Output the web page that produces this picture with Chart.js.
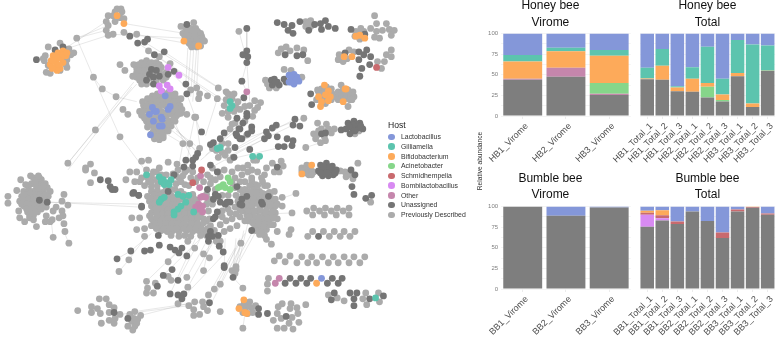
<!DOCTYPE html>
<html>
<head>
<meta charset="utf-8">
<title>Host network and relative abundance</title>
<script src="https://cdn.jsdelivr.net/npm/chart.js@4/dist/chart.umd.min.js"></script>
<style>
  html, body { margin: 0; padding: 0; background: #fff; width: 777px; height: 338px; overflow: hidden; font-family: "Liberation Sans", sans-serif; }
  canvas { position: absolute; }
  #legend { position: absolute; left: 388px; top: 119px; color: #222; }
  #legend .head { font-size: 8.6px; height: 13px; line-height: 12px; }
  #legend .row { position: relative; height: 9.75px; line-height: 9.75px; font-size: 6.9px; padding-left: 13px; white-space: nowrap; color: #333; }
  #legend .dot { position: absolute; left: 0.4px; top: 1.6px; width: 6.6px; height: 6.6px; border-radius: 50%; }
  #yTitle { position: absolute; left: 479px; top: 161px; font-size: 6.6px; color: #333; transform: translate(-50%, -50%) rotate(-90deg); white-space: nowrap; }
</style>
</head>
<body>
<canvas id="network" width="470" height="338" style="left:0;top:0;width:470px;height:338px"></canvas>
<canvas id="hbVirome" width="192" height="170" style="left:470px;top:0;width:192px;height:170px"></canvas>
<canvas id="hbTotal" width="195" height="170" style="left:610px;top:0;width:195px;height:170px"></canvas>
<canvas id="bbVirome" width="192" height="168" style="left:470px;top:170px;width:192px;height:168px"></canvas>
<canvas id="bbTotal" width="195" height="168" style="left:610px;top:170px;width:195px;height:168px"></canvas>
<div id="legend"></div>
<div id="yTitle">Relative abundance</div>
<script>
// --- LEGEND ---
const hostNames = ['Lactobacillus', 'Gilliamella', 'Bifidobacterium', 'Acinetobacter', 'Schmidhempelia', 'Bombilactobacillus', 'Other', 'Unassigned', 'Previously Described'];
const hostColors = ['#8497d9', '#5cc4ae', '#fdaa5a', '#86d68a', '#c96a6e', '#d88af2', '#c586ac', '#757575', '#ababab'];

// --- BAR DATA ---
const yTicks = [0, 25, 50, 75, 100];
const hbVirLabels = ['HB1_Virome', 'HB2_Virome', 'HB3_Virome'];
const hbVirUnassigned = [44, 47.5, 25.5];
const hbVirOther = [1, 11, 1.5];
const hbVirAcinetobacter = [0, 0, 13];
const hbVirBifido = [21, 20, 33];
const hbVirGilliamella = [8, 4, 7];
const hbVirLacto = [26, 17.5, 20];

const hbTotLabels = ['HB1_Total_1', 'HB1_Total_2', 'HB1_Total_3', 'HB2_Total_1', 'HB2_Total_2', 'HB2_Total_3', 'HB3_Total_1', 'HB3_Total_2', 'HB3_Total_3'];
const hbTotUnassigned = [44.5, 44, 30, 29.5, 22.5, 17.5, 48, 11, 54.5];
const hbTotAcinetobacter = [0, 0, 0, 0, 13, 2, 0, 0, 0];
const hbTotBifido = [1, 17, 4.5, 15.5, 4.5, 6.5, 4, 4, 0.3];
const hbTotGilliamella = [13, 20, 1.5, 14, 44, 19, 40, 71.5, 30.7];
const hbTotLacto = [41.5, 19, 64, 41, 16, 55, 8, 13.5, 14.5];

const bbVirLabels = ['BB1_Virome', 'BB2_Virome', 'BB3_Virome'];
const bbVirUnassigned = [100, 89, 99];
const bbVirLacto = [0, 11, 1];

const bbTotLabels = ['BB1_Total_1', 'BB1_Total_2', 'BB1_Total_3', 'BB2_Total_1', 'BB2_Total_2', 'BB2_Total_3', 'BB3_Total_1', 'BB3_Total_2', 'BB3_Total_3'];
const bbTotUnassigned = [75.5, 83, 79, 94, 82.5, 62, 94, 98.5, 90];
const bbTotBombi = [14.5, 3, 0, 0, 0, 0, 0, 0, 0];
const bbTotSchmid = [2.5, 3.5, 3, 0, 0, 6.5, 2.5, 1, 1.5];
const bbTotBifido = [2.5, 6, 0, 0, 0, 0, 0, 0.5, 0];
const bbTotLacto = [5, 4.5, 18, 6, 17.5, 31.5, 3.5, 0, 8.5];

// --- NETWORK NODES ---
const nodesLacto = [[290,73],[295,72],[293,77],[298,75],[290,80],[295,82],[300,79],[292,75],[297,78],[292,80],[153,110],[148,113],[151,106],[155,110],[160,116],[152,120],[158,125],[161,118],[169,105],[164,94],[167,108],[161,125],[149,134],[323,281]];
const nodesGilli = [[145,175],[158,177],[162,180],[165,183],[170,180],[160,182],[163,185],[168,185],[160,200],[163,198],[158,203],[177,195],[182,197],[173,213],[177,210],[180,207],[185,203],[173,216],[193,213],[188,196],[217,148],[220,147],[253,156],[260,156],[378,301],[230,100],[232,104],[230,107]];
const nodesBifido = [[55,50],[60,48],[50,53],[58,55],[48,58],[53,60],[60,60],[47,62],[52,65],[57,66],[63,53],[54,68],[55,55],[50,58],[56,62],[49,66],[60,52],[64,50],[115,12],[122,20],[183,38],[198,43],[362,32],[367,35],[358,33],[346,54],[354,54],[326,83],[330,89],[327,93],[320,95],[332,95],[330,99],[323,100],[322,105],[347,87],[345,100],[348,87],[313,165],[303,174],[244,303],[239,312],[245,316],[247,317],[318,286]];
const nodesAcin = [[228,178],[230,182],[220,187],[225,188],[230,190],[223,185],[218,188]];
const nodesSchmid = [[201,170],[192,183],[379,65]];
const nodesBombi = [[167,65],[178,73],[158,84],[166,83],[160,89],[169,87]];
const nodesOther = [[247,90],[199,188],[200,176],[200,198],[202,197],[205,198],[198,205],[195,208],[202,207],[202,213],[197,210],[200,210],[276,286],[280,281]];
const nodesUnassigned = [[52,47],[60,44],[33,57],[186,21],[128,33],[136,40],[143,39],[146,36],[153,52],[163,49],[150,67],[155,68],[148,72],[158,74],[145,78],[152,75],[152,82],[167,72],[173,69],[185,82],[186,92],[201,131],[197,153],[195,157],[185,160],[192,160],[210,144],[213,142],[237,117],[247,112],[247,115],[224,132],[220,138],[240,128],[237,135],[242,138],[248,133],[235,147],[234,157],[250,149],[183,167],[192,166],[210,165],[217,172],[173,175],[167,192],[207,190],[215,195],[220,203],[225,205],[230,203],[242,200],[247,197],[240,205],[132,193],[137,196],[140,207],[213,220],[210,233],[208,238],[212,238],[218,237],[208,243],[227,203],[213,200],[218,197],[237,187],[215,218],[217,213],[262,203],[242,206],[263,205],[269,197],[320,238],[286,286],[291,281],[297,286],[302,281],[308,286],[312,281],[329,286],[334,281],[340,286],[344,281],[336,296],[333,303],[352,296],[359,296],[356,302],[356,309],[372,302],[386,299],[259,312],[259,318],[268,317],[287,320],[278,19],[285,21],[293,22],[289,27],[294,30],[301,18],[310,27],[316,21],[322,20],[327,17],[323,26],[330,23],[337,25],[353,26],[367,31],[286,52],[298,53],[304,52],[347,50],[361,49],[361,57],[366,52],[369,47],[373,54],[372,62],[364,66],[362,74],[272,78],[275,77],[278,80],[273,83],[285,77],[287,80],[280,83],[276,80],[312,92],[313,103],[247,25],[247,48],[243,52],[248,54],[247,60],[242,79],[244,96],[296,118],[301,125],[294,124],[277,124],[273,127],[267,131],[269,135],[265,138],[278,136],[288,138],[294,140],[293,145],[285,146],[279,146],[252,126],[252,130],[243,122],[239,128],[236,133],[240,138],[323,133],[327,132],[343,129],[350,122],[356,120],[362,122],[348,128],[354,127],[360,127],[365,128],[352,133],[358,123],[355,124],[351,125],[357,130],[363,125],[322,165],[328,163],[334,166],[320,171],[326,170],[332,170],[338,170],[324,176],[330,176],[335,175],[325,167],[331,167],[328,173],[322,173],[337,173],[353,170],[357,175],[354,187],[356,195],[368,199],[374,196],[278,167],[252,232],[44,203],[36,201],[98,180],[106,181],[108,187],[113,190],[110,190],[131,194],[137,196],[140,208],[157,237],[158,247],[143,253],[149,252],[129,253],[115,261],[171,272],[162,278],[177,283],[156,289],[169,297],[177,298],[183,297],[181,302],[169,249],[174,252],[181,250],[178,255],[186,258],[224,270],[209,306],[219,248],[223,254],[233,280],[112,316],[126,322],[224,268]];
const nodesPrev = [
  // top left clusters
  [57,40],[45,44],[66,46],[68,52],[71,50],[64,57],[42,53],[40,56],[41,58],[45,63],[43,70],[47,71],[57,68],[64,65],[63,62],[74,35],
  [115,5],[119,5],[113,8],[120,8],[106,12],[111,12],[118,14],[104,18],[113,18],[122,15],[106,22],[104,27],[106,32],[111,31],
  [193,19],[180,23],[185,25],[190,25],[195,25],[182,30],[188,30],[193,30],[198,30],[186,35],[191,35],[196,35],[201,33],[204,38],[188,40],[193,40],[198,40],[191,44],[196,44],[200,43],
  [187,28],[192,28],[197,28],[200,30],[184,33],[189,33],[194,33],[199,36],[187,38],[192,38],[196,38],[202,36],[190,42],[194,42],
  [122,29],[135,31],[147,48],[158,54],[169,61],
  [118,62],[123,68],[132,62],[135,66],[131,74],[138,78],[140,60],[145,58],[150,60],[155,60],[135,70],[140,65],[145,65],[140,72],[135,75],[160,65],[165,70],[162,78],[155,82],[140,82],[146,70],[152,70],[158,68],
  [143,62],[148,62],[153,64],[158,62],[138,68],[143,68],[138,75],[143,76],[148,76],[155,78],[160,72],[165,75],[145,82],[137,62],[150,65],[142,80],
  // lacto cluster
  [141,100],[146,97],[151,94],[156,92],[161,90],[168,90],[174,92],[180,97],[142,104],[147,102],[152,99],[157,96],[162,95],[167,94],[172,97],[177,100],[138,110],[144,108],[149,105],[154,103],[158,101],[164,100],[170,100],[176,104],[181,108],[140,114],[146,115],[150,118],[155,115],[160,110],[165,105],[172,108],[178,110],[145,120],[150,124],[155,120],[160,122],[165,115],[170,113],[175,115],[146,126],[152,130],[157,127],[163,122],[168,120],[174,120],[150,133],[155,134],[160,132],[165,128],[170,125],[153,138],[158,139],[162,137],
  [149,97],[154,95],[159,93],[165,92],[171,94],[176,97],[145,105],[150,102],[155,100],[161,98],[167,98],[173,100],[179,104],[141,110],[147,110],[152,108],[158,106],[162,103],[168,103],[174,106],[143,117],[148,120],[153,117],[158,118],[163,112],[168,110],[174,110],[180,112],[148,124],[153,125],[158,130],[163,127],[168,124],[173,118],[177,113],[152,135],[157,136],[162,134],[167,130],
  [121,108],[126,113],[195,116],[186,113],[196,86],[190,88],[199,92],[198,97],[207,94],[218,86],[226,90],[217,97],
  // links on the left
  [91,75],[100,87],[114,95],[93,129],[118,136],[65,163],[88,164],[83,168],[140,161],[147,160],[167,162],[176,164],[182,143],[189,143],[194,116],[199,148],
  [255,99],[261,101],[258,106],[255,109],[253,115],[250,104],[239,28],[247,134],[233,157],[305,117],
  // cluster upper right of centre
  [222,143],[216,150],[222,152],[228,150],[212,148],[228,143],[232,123],[230,128],[245,120],[235,122],[243,168],[248,165],[225,155],[230,160],[218,157],
  [228,92],[234,92],[226,98],[232,97],[238,100],[224,104],[236,106],[228,110],[234,110],[240,108],[245,105],[222,112],[228,116],
  [257,160],[267,168],[273,163],[282,161],[284,166],[275,172],[280,172],[265,175],[252,181],[265,186],[270,193],[254,160],
  // main bottom cluster
  [150,192],[156,191],[162,193],[168,192],[174,190],[180,192],[146,197],[152,197],[158,196],[166,197],[172,198],[186,198],[192,195],[148,202],[154,203],[164,203],[170,202],[176,203],[190,202],[196,201],[150,207],[156,208],[162,207],[168,208],[186,208],[192,206],[152,212],[158,212],[164,213],[170,212],[180,212],[186,213],[190,211],[148,217],[156,217],[160,218],[166,217],[176,218],[182,217],[188,218],[194,217],[200,218],[152,222],[158,223],[164,222],[170,222],[176,223],[184,222],[190,223],[196,222],[206,222],[150,227],[156,228],[162,227],[168,228],[174,227],[180,228],[188,227],[194,228],[200,227],[210,227],[160,232],[166,233],[172,232],[178,233],[186,232],[192,233],[198,232],[204,233],[214,232],[170,237],[178,238],[184,237],[190,238],[200,237],[206,237],
  [153,195],[159,199],[163,196],[170,196],[177,197],[183,195],[189,198],[149,199],[155,200],[161,201],[167,200],[173,200],[179,200],[183,200],[187,203],[193,199],[153,205],[159,205],[165,205],[171,206],[177,206],[183,206],[189,205],[195,205],[155,210],[161,210],[167,211],[173,210],[178,214],[183,210],[189,208],[193,210],[150,214],[155,214],[161,215],[167,215],[172,215],[178,216],[184,215],[190,215],[196,214],[150,220],[155,220],[161,220],[167,220],[173,220],[179,220],[185,220],[191,220],[197,219],[203,220],[209,220],[154,225],[159,225],[165,225],[171,225],[177,225],[183,225],[191,225],[197,225],[203,224],[155,230],[163,230],[169,230],[175,230],[183,230],[189,230],[195,230],[201,230],[207,230],
  [135,172],[140,178],[147,182],[152,172],[158,168],[165,175],[172,174],[177,170],[178,178],[184,172],[170,190],[184,185],[150,187],[156,186],[165,190],[143,186],
  [145,170],[150,176],[155,172],[160,175],[175,176],[182,176],[150,182],[155,180],[175,184],[180,182],[188,186],[145,177],
  [186,170],[192,172],[197,178],[190,178],[207,175],[212,168],[218,172],[224,170],[232,172],[238,168],[242,175],[248,172],[245,182],[252,178],[240,190],[246,192],[215,190],[210,184],[215,180],[222,196],[228,196],[236,196],[242,200],[206,195],[212,205],[208,212],[222,212],[228,210],[235,208],[242,212],[248,205],[252,198],[256,195],[232,220],[240,218],[226,222],[220,226],[248,222],
  [195,182],[203,182],[210,178],[220,177],[235,178],[240,182],[235,188],[232,183],[208,200],[206,205],[222,218],[230,214],[236,215],[244,207],[250,212],[245,200],[238,202],[256,185],[262,178],[258,172],[252,170],
  // right of centre cluster
  [243,195],[248,192],[254,190],[260,192],[266,195],[271,198],[276,200],[240,200],[246,199],[251,197],[257,197],[266,200],[273,203],[278,205],[244,205],[250,203],[255,203],[260,207],[268,208],[274,210],[240,211],[246,210],[252,209],[258,212],[264,214],[270,215],[276,214],[247,216],[253,216],[259,218],[265,220],[271,220],[250,222],[256,224],[262,226],[268,225],[274,226],[255,229],[261,231],[267,231],[260,236],[265,237],[278,220],[245,190],[250,186],[258,186],[263,182],[268,186],[275,192],[283,198],[283,207],[297,194],[293,214],[292,231],[290,236],[278,233],[267,241],[272,246],[241,245],[220,243],[216,243],[230,230],[224,233],[237,227],[245,222],
  [246,195],[252,193],[257,193],[263,194],[270,194],[243,200],[249,201],[254,200],[260,200],[263,198],[270,203],[276,207],[247,206],[253,206],[258,204],[265,205],[271,206],[243,208],[249,213],[255,212],[261,211],[267,212],[273,213],[250,218],[256,219],[262,220],[268,219],[274,219],[253,224],[259,223],[265,226],[271,226],[258,228],[264,229],[256,232],[262,234],
  // rows
  [308,212],[315,209],[314,216],[321,212],[327,209],[326,216],[333,212],[339,209],[338,216],[345,212],[351,209],[351,216],
  [309,238],[314,233],[325,233],[331,238],[336,233],[342,238],[346,233],[352,238],[357,233],
  [275,263],[280,258],[286,264],[291,258],[298,265],[303,259],[309,265],[313,259],[318,265],[324,259],[330,265],[335,259],[340,265],[346,259],[351,265],[356,259],[362,265],[367,259],
  [269,281],[268,287],[268,294],
  [330,298],[339,301],[346,304],[368,296],[365,302],[369,308],[381,296],[382,305],
  // bottom right
  [245,305],[250,305],[240,310],[246,311],[252,311],[256,309],[243,316],[248,317],[253,316],[243,332],[248,308],[244,308],
  [307,308],[283,307],[292,307],[279,310],[291,312],[298,311],[278,317],[299,317],[282,322],[274,324],[293,321],[300,326],[290,327],[285,332],[278,332],[294,333],
  // top right
  [307,18],[312,17],[307,23],[312,23],[310,20],
  [377,12],[379,20],[389,20],[373,25],[379,28],[385,27],[392,26],[397,27],[394,32],[377,34],[382,35],[358,28],[357,33],[362,36],[363,25],[360,30],[366,28],
  [279,50],[282,46],[287,44],[291,48],[298,45],[305,47],[309,58],
  [341,52],[351,47],[340,57],[345,59],[349,56],[356,49],[380,59],[387,59],[384,66],[389,52],[394,47],[394,54],
  [285,67],[292,68],[303,75],[268,82],[277,86],[270,86],[266,78],
  [319,88],[323,87],[333,87],[318,98],[334,92],[333,98],[327,102],[320,90],[325,90],[328,85],[336,95],[321,92],[325,96],[329,97],[326,99],[322,97],[331,92],
  [343,83],[340,90],[345,92],[350,88],[356,95],[352,93],[342,95],[347,97],[352,98],[350,105],[340,98],[355,90],[345,88],[350,92],[346,95],[343,92],[354,98],
  // right centre
  [319,122],[328,123],[323,128],[333,132],[315,133],[317,138],[322,142],[330,128],[336,128],[318,135],[327,140],[307,147],[326,136],[320,130],
  [357,133],[361,130],
  [303,168],[308,165],[305,173],[310,175],[315,172],[310,169],[306,170],[307,170],[312,170],[308,173],[313,175],[303,171],
  [342,171],[360,163],[347,172],[348,177],[353,175],[355,179],[373,203],
  // big left cluster
  [30,178],[34,182],[38,180],[42,184],[28,184],[33,187],[38,186],[44,188],[47,192],[20,192],[25,190],[30,192],[35,192],[40,192],[45,197],[18,197],[23,196],[28,198],[33,197],[38,197],[16,202],[21,202],[26,203],[31,203],[38,206],[43,208],[20,207],[25,208],[30,208],[35,208],[24,213],[29,213],[34,213],[30,216],
  [32,181],[36,178],[40,187],[35,189],[25,186],[22,195],[27,194],[32,195],[37,195],[42,195],[20,200],[25,200],[30,201],[35,201],[40,200],[18,205],[23,205],[28,206],[33,206],[40,203],[23,210],[28,210],[33,210],[38,210],[26,216],[32,213],
  [35,176],[27,176],[17,180],[22,185],[13,191],[4,197],[4,204],[15,212],[16,219],[21,223],[26,219],[30,221],[33,228],[42,223],[47,223],[49,221],[56,219],[59,212],[60,217],[53,208],[50,212],[61,195],[59,202],[65,206],[61,225],[62,233],[50,239],[66,245],[43,217],
  // lower left chains
  [83,170],[92,173],[88,183],[124,180],[128,172],[133,182],[138,182],[130,219],[138,219],[135,231],[143,230],[143,238],[127,262],[117,274],[167,264],[167,279],[170,283],[186,280],[187,290],[145,284],[154,286],[146,291],[145,296],[152,296],[177,307],[194,250],[203,256],[209,260],[203,273],[220,287],[214,292],[208,298],[202,305],[194,305],[188,309],[203,310],[207,314],[193,313],[193,319],[199,318],[220,315],[187,243],[236,269],
  [75,314],[97,302],[104,302],[89,310],[89,316],[95,312],[98,317],[107,308],[112,311],[107,316],[118,318],[113,322],[107,324],[112,327],[99,327],[128,318],[133,315],[139,319],[132,322],[136,323],[130,325],[135,327],[126,330],[133,330],[131,334],
  [236,272],[232,273],[235,276],[243,291]
];

// --- NETWORK EDGES: [x1, y1, x2, y2] ---
const edgeList = [
  [74,35,104,27],[74,35,106,22],[60,47,106,32],[60,47,104,18],[122,20,183,30],[111,31,183,35],[122,29,184,40],[74,35,91,75],[91,75,118,136],[118,136,145,172],
  [65,163,93,129],[93,129,135,82],[65,163,132,80],[65,170,130,85],[91,75,100,87],[100,87,114,95],[114,95,135,100],[187,45,185,82],[190,45,187,90],[193,45,190,95],[196,45,192,100],[198,42,196,86],
  [136,40,225,100],[163,49,240,100],[147,48,190,90],[143,39,218,86],[153,52,217,97],[165,125,190,145],[170,122,195,150],[160,130,190,148],[175,130,195,145],[168,120,197,153],[172,118,192,160],
  [182,143,177,170],[189,143,185,170],[195,116,200,150],[194,116,188,145],[217,97,205,135],[239,28,245,50],[247,25,247,48],[247,60,242,79],[242,79,247,90],[247,90,244,110],[247,60,250,100],[186,92,200,131],
  [47,203,138,208],[44,203,140,205],[253,115,200,160],[265,138,215,165],[285,146,225,160],[296,118,235,150],[305,117,240,140],[258,106,210,150],[255,109,205,155],[277,124,215,160],[294,124,230,155],[283,198,260,205],[293,214,270,215],[297,194,280,200],[307,147,322,142],
  [50,239,48,222],[66,245,61,233],[128,172,150,180],[118,318,188,309],[139,319,194,305],[133,315,202,305],[241,245,232,272],[236,240,233,272],[244,232,235,272],[248,225,237,272],[252,235,230,275],[258,230,236,270],[243,291,233,280],[243,332,245,318],
  [117,274,127,262],[127,262,143,240],[115,261,129,253],[129,253,150,235],[169,297,195,240],[177,283,200,240],[187,290,215,240],[203,273,210,240],[186,280,205,245],[224,270,225,240],[220,287,240,240],[214,292,245,235],[207,314,240,250],[162,278,200,240],[145,284,180,250],[208,298,235,250],[181,302,225,255],[167,264,190,240],[203,256,215,240]
];

// --- BUILD THE NETWORK CHART ---
const toPoints = (pairs) => pairs.map(p => ({ x: p[0], y: p[1] }));
const edgePoints = [];
edgeList.forEach(e => {
    edgePoints.push({ x: e[0], y: e[1] }, { x: e[2], y: e[3] }, { x: e[2], y: null });
});
const nodeGroups = [nodesLacto, nodesGilli, nodesBifido, nodesAcin, nodesSchmid, nodesBombi, nodesOther, nodesUnassigned, nodesPrev];
const nodeSets = nodeGroups.map((pairs, i) => ({
    label: hostNames[i],
    data: toPoints(pairs),
    backgroundColor: hostColors[i],
    pointRadius: 3.4,
    borderWidth: 0,
    showLine: false,
    order: i === 8 ? 2 : (i === 7 ? 1 : 0)
}));
new Chart(document.getElementById('network'), {
    type: 'scatter',
    data: {
        datasets: [...nodeSets, {
            label: 'Edges',
            data: edgePoints,
            showLine: true,
            spanGaps: false,
            pointRadius: 0,
            borderWidth: 0.6,
            borderColor: 'rgba(170,170,170,0.45)',
            order: 3
        }]
    },
    options: {
        responsive: false,
        animation: false,
        events: [],
        plugins: { legend: { display: false }, tooltip: { enabled: false } },
        layout: { padding: 0 },
        scales: {
            x: { type: 'linear', display: false, min: 0, max: 470 },
            y: { type: 'linear', display: false, min: 0, max: 338, reverse: true }
        }
    }
});

// --- LEGEND HTML ---
const legendEl = document.getElementById('legend');
legendEl.innerHTML = '<div class="head">Host</div>' + hostNames.map((name, i) =>
    `<div class="row"><span class="dot" style="background:${hostColors[i]}"></span>${name}</div>`).join('');

// --- BAR PANELS ---
const barSet = (host, values) => {
    const i = hostNames.indexOf(host);
    return { label: host, data: values, backgroundColor: i === 7 ? '#7e7e7e' : hostColors[i], borderWidth: 0, barPercentage: 0.9, categoryPercentage: 1 };
};

function barPanel(id, labels, sets, cfg) {
    new Chart(document.getElementById(id), {
        type: 'bar',
        data: { labels, datasets: sets },
        options: {
            responsive: false,
            animation: false,
            events: [],
            layout: { padding: { left: cfg.padLeft, right: cfg.padRight, top: 0, bottom: 0 } },
            plugins: {
                legend: { display: false },
                tooltip: { enabled: false },
                title: {
                    display: true,
                    text: cfg.title,
                    color: '#111',
                    font: { family: '"Liberation Sans"', size: 12, weight: 'normal', lineHeight: 1.38 },
                    padding: { top: cfg.titleTop, bottom: cfg.titleBottom }
                }
            },
            scales: {
                x: {
                    stacked: true,
                    offset: true,
                    border: { display: false },
                    grid: { display: true, offset: false, drawOnChartArea: false, drawTicks: true, tickLength: 3, color: '#ececec' },
                    ticks: {
                        color: '#4d4d4d',
                        autoSkip: false,
                        minRotation: 45,
                        maxRotation: 45,
                        padding: 2,
                        labelOffset: cfg.labelShift,
                        font: { family: '"Liberation Sans"', size: 9 }
                    },
                    afterFit: (scale) => {
                        scale.height = cfg.axisHeight;
                        scale.paddingLeft = 0;
                        scale.paddingRight = 0;
                    }
                },
                y: {
                    stacked: true,
                    min: 0,
                    max: 100,
                    border: { display: false },
                    grid: { color: '#f1f1f1', drawTicks: false, lineWidth: 0.8 },
                    afterBuildTicks: (scale) => {
                        const minor = [12.5, 37.5, 62.5, 87.5];
                        scale.ticks = [...yTicks, ...minor].sort((a, b) => a - b).map(v => ({ value: v }));
                    },
                    ticks: {
                        display: cfg.showY,
                        color: '#7f7f7f',
                        padding: 3,
                        font: { family: '"Liberation Sans"', size: 6 },
                        callback: (v) => (yTicks.includes(v) ? v : '')
                    },
                    afterFit: (scale) => {
                        scale.width = cfg.yWidth;
                        scale.paddingTop = 0;
                        scale.paddingBottom = 0;
                    }
                }
            }
        }
    });
}

const leftTop = { padLeft: 0, padRight: 31.2, yWidth: 31.1, showY: true, axisHeight: 54, titleTop: -2.3, titleBottom: 2.6, labelShift: 4 };
const rightTop = { padLeft: 29.7, padRight: 29.8, yWidth: 0, showY: false, axisHeight: 54, titleTop: -2.3, titleBottom: 2.6, labelShift: 4 };
const leftBottom = { padLeft: 0, padRight: 31.2, yWidth: 31.1, showY: true, axisHeight: 49, titleTop: 0, titleBottom: 3.5, labelShift: 4 };
const rightBottom = { padLeft: 29.7, padRight: 29.8, yWidth: 0, showY: false, axisHeight: 49, titleTop: 0, titleBottom: 3.5, labelShift: 4 };

barPanel('hbVirome', hbVirLabels, [
    barSet('Unassigned', hbVirUnassigned), barSet('Other', hbVirOther), barSet('Acinetobacter', hbVirAcinetobacter),
    barSet('Bifidobacterium', hbVirBifido), barSet('Gilliamella', hbVirGilliamella), barSet('Lactobacillus', hbVirLacto)
], { ...leftTop, title: ['Honey bee', 'Virome'] });

barPanel('hbTotal', hbTotLabels, [
    barSet('Unassigned', hbTotUnassigned), barSet('Acinetobacter', hbTotAcinetobacter), barSet('Bifidobacterium', hbTotBifido),
    barSet('Gilliamella', hbTotGilliamella), barSet('Lactobacillus', hbTotLacto)
], { ...rightTop, title: ['Honey bee', 'Total'] });

barPanel('bbVirome', bbVirLabels, [
    barSet('Unassigned', bbVirUnassigned), barSet('Lactobacillus', bbVirLacto)
], { ...leftBottom, title: ['Bumble bee', 'Virome'] });

barPanel('bbTotal', bbTotLabels, [
    barSet('Unassigned', bbTotUnassigned), barSet('Bombilactobacillus', bbTotBombi), barSet('Schmidhempelia', bbTotSchmid),
    barSet('Bifidobacterium', bbTotBifido), barSet('Lactobacillus', bbTotLacto)
], { ...rightBottom, title: ['Bumble bee', 'Total'] });
</script>
</body>
</html>
